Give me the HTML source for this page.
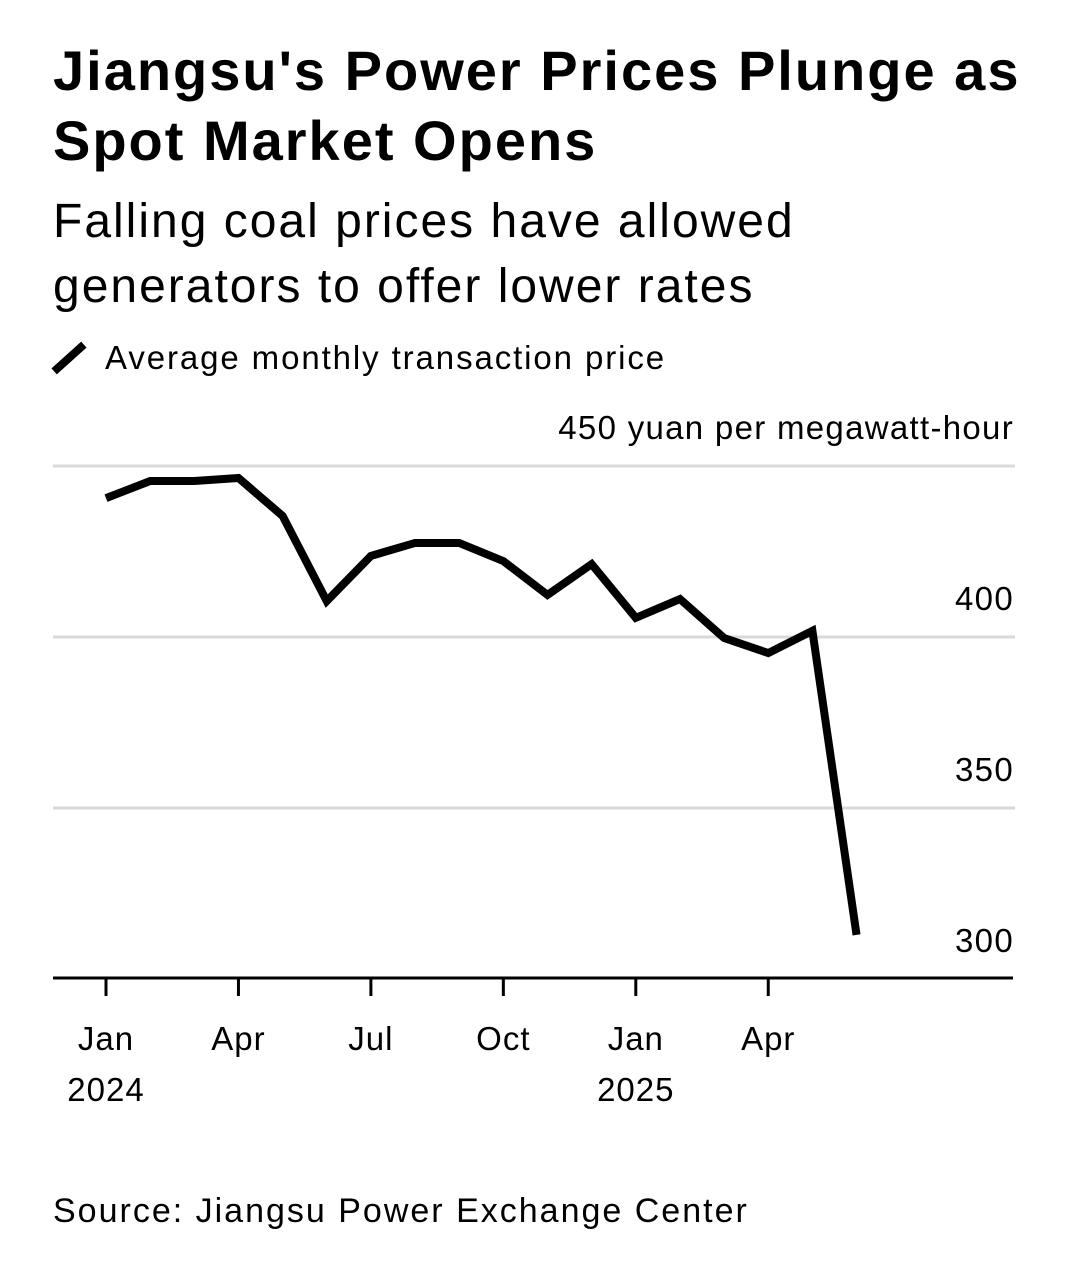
<!DOCTYPE html>
<html><head><meta charset="utf-8"><style>
body{margin:0;background:#fff;font-family:"Liberation Sans",Arial,sans-serif;color:#000;}
#wrap{position:relative;width:1078px;height:1270px;overflow:hidden}
.t{position:absolute;left:53px;white-space:nowrap}
</style></head><body><div id="wrap">
<div class="t" style="top:36px;font-size:56px;font-weight:bold;line-height:70px;letter-spacing:2px">Jiangsu's Power Prices Plunge as<br>Spot Market Opens</div>
<div class="t" style="top:189px;font-size:48px;line-height:65px;letter-spacing:2px">Falling coal prices have allowed<br>generators to offer lower rates</div>
<div class="t" style="top:338px;font-size:33px;line-height:40px;letter-spacing:1.9px"><span style="display:inline-block;width:40px;height:8px;background:#000;transform:rotate(-42deg);vertical-align:middle;margin:0 16px 0 -4px;position:relative;top:-2px"></span>Average monthly transaction price</div>
<svg id="chart" width="1078" height="1270" style="position:absolute;left:0;top:0" font-family="Liberation Sans, Arial, sans-serif"></svg>
<div class="t" style="top:1192px;font-size:34px;letter-spacing:2px">Source: Jiangsu Power Exchange Center</div>
</div>
<script>
const months=["2024-01","2024-02","2024-03","2024-04","2024-05","2024-06","2024-07","2024-08","2024-09","2024-10","2024-11","2024-12","2025-01","2025-02","2025-03","2025-04","2025-05","2025-06"];
const prices=[440.6,445.6,445.6,446.5,435.4,410.5,423.7,427.5,427.5,422.2,412.3,421.3,405.6,411.1,399.7,395.3,401.8,312.9];
const yTicks=[450,400,350,300];
const yTickLabels=["450 yuan per megawatt-hour","400","350","300"];
const xTickIdx=[0,3,6,9,12,15];
const xTickLabels=[["Jan","2024"],["Apr",""],["Jul",""],["Oct",""],["Jan","2025"],["Apr",""]];
const svg=document.getElementById('chart');const NS="http://www.w3.org/2000/svg";
const x=i=>106+i*44.15;const y=v=>466+(450-v)*3.42;
function mk(t,a){const e=document.createElementNS(NS,t);for(const k in a)e.setAttribute(k,a[k]);svg.appendChild(e);return e;}
yTicks.forEach((v,i)=>{
 if(v>300){const g=mk('line',{x1:53,x2:1015,y1:y(v),y2:y(v),stroke:'#d9d9d9','stroke-width':3});
 
 }
 const t=mk('text',{x:1014,y:y(v)-27,'text-anchor':'end','font-size':33,'letter-spacing':1.3});
 t.textContent=yTickLabels[i];
 
 
});
const b=mk('line',{x1:53,x2:1013,y1:978,y2:978,stroke:'#000','stroke-width':3});


xTickIdx.forEach((m,i)=>{
 const tk=mk('line',{x1:x(m),x2:x(m),y1:978,y2:996,stroke:'#000','stroke-width':3});
 
 
 const t=mk('text',{x:x(m),y:1050,'text-anchor':'middle','font-size':33,'letter-spacing':1});t.textContent=xTickLabels[i][0];
 
 
 if(xTickLabels[i][1]){const t2=mk('text',{x:x(m),y:1101,'text-anchor':'middle','font-size':33,'letter-spacing':1});t2.textContent=xTickLabels[i][1];
 
 }
});
const p=mk('polyline',{points:prices.map((v,i)=>x(i)+','+y(v)).join(' '),fill:'none',stroke:'#000','stroke-width':8,'stroke-linejoin':'miter'});


</script></body></html>
